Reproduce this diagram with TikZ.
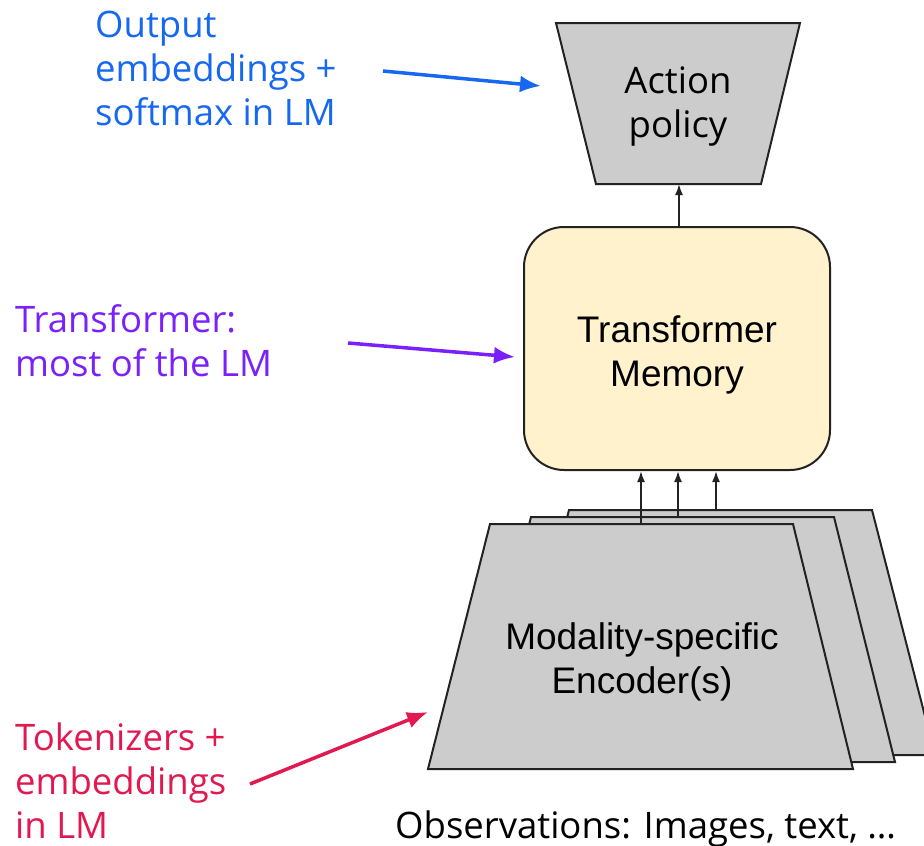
\documentclass[tikz,border=0pt]{standalone}
\usepackage{fontspec}
\setmainfont{Open Sans}
\newfontfamily\arialfont{Liberation Sans}
\usetikzlibrary{arrows.meta}
\definecolor{lblblue}{RGB}{22,104,240}
\definecolor{lblpurple}{RGB}{122,32,250}
\definecolor{lblred}{RGB}{226,24,80}
\definecolor{boxgray}{RGB}{204,204,204}
\definecolor{memfill}{RGB}{255,242,204}
\definecolor{edge}{RGB}{34,34,34}
\tikzset{
  lbl/.style={font=\fontsize{36.5}{44}\selectfont, align=left, inner sep=0pt},
  inlbl/.style={font=\fontsize{36.5}{44}\selectfont, align=center, inner sep=0pt},
  arlbl/.style={font=\arialfont\fontsize{37}{43.5}\selectfont, align=center, inner sep=0pt},
  gshape/.style={fill=boxgray, draw=edge, line width=2pt, line join=miter},
  flow/.style={draw=edge, line width=1.8pt, -{Latex[length=11pt,width=8pt]}},
  callout/.style={line width=3.5pt, -{Latex[length=21pt,width=17pt]}},
}
\begin{document}
\begin{tikzpicture}[x=1pt,y=-1pt]
\useasboundingbox (0,0) rectangle (924,846);

% action policy (inverted trapezoid)
\draw[gshape] (556,23) -- (800,23) -- (761,184) -- (596,184) -- cycle;
\node[inlbl, anchor=base] (act) at (678,137) {Action\\policy};
\coordinate (actbot) at (679,184);
\coordinate (actleft) at (541,86);

% transformer memory
\node[draw=edge, line width=2pt, fill=memfill, rounded corners=40pt,
      minimum width=306pt, minimum height=243pt, inner sep=0pt] (mem) at (677,348.5) {};
\node[arlbl, anchor=base] (memtxt) at (677,386) {Transformer\\Memory};

% encoder stack, back to front
\draw[gshape] (569,510) -- (872,510) -- (935,755) -- (507,755) -- cycle;
\draw[gshape] (531,517) -- (834,517) -- (895,762) -- (469,762) -- cycle;
\draw[gshape] (490,524) -- (793,524) -- (853,769) -- (428,769) -- cycle;
\node[arlbl, anchor=base] (enctxt) at (642,693) {Modality-specific\\Encoder(s)};
\coordinate (encA) at (641,524);
\coordinate (encB) at (678,517);
\coordinate (encC) at (716,510);
\coordinate (encleft) at (428,712);

% data flow
\draw[flow] (encA) -- (encA |- mem.south);
\draw[flow] (encB) -- (encB |- mem.south);
\draw[flow] (encC) -- (encC |- mem.south);
\draw[flow] (mem.north -| actbot) -- (actbot);

% observations caption
\node[font=\fontsize{36.5}{44}\selectfont, inner sep=0pt, anchor=base west] (obs) at (395,838) {Observations: Images, text, \dots};

% annotations
\node[lbl, text=lblblue, anchor=base west] (outlbl) at (95,125) {Output\\embeddings +\\softmax in LM};
\coordinate (outtail) at (383,71);
\draw[callout, lblblue] (outtail) -- (actleft);

\node[lbl, text=lblpurple, anchor=base west] (trlbl) at (15,376) {Transformer:\\most of the LM};
\coordinate (trtail) at (348,343);
\coordinate (memleft) at (515,357);
\draw[callout, lblpurple] (trtail) -- (memleft);

\node[lbl, text=lblred, anchor=base west] (toklbl) at (15,838) {Tokenizers +\\embeddings\\in LM};
\coordinate (toktail) at (250,784);
\draw[callout, lblred] (toktail) -- (encleft);
\end{tikzpicture}
\end{document}
